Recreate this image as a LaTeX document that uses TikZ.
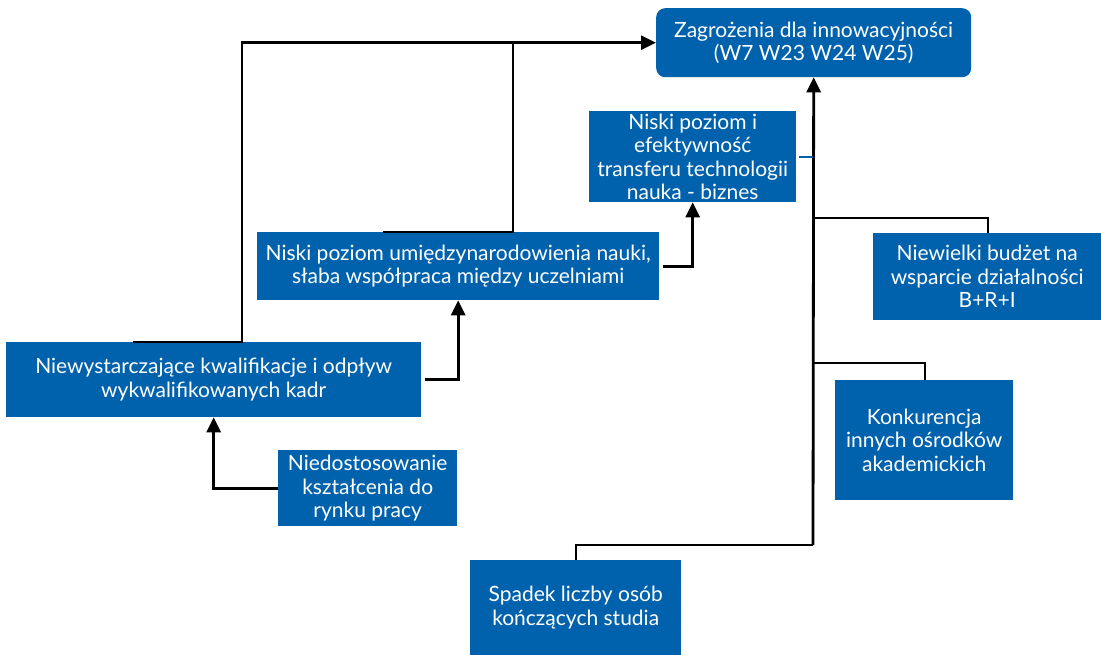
\documentclass[tikz,border=0pt]{standalone}
\usepackage{fontspec}
\setmainfont{Lato}
\usetikzlibrary{arrows.meta}
\definecolor{boxblue}{RGB}{0,98,173}
\begin{document}
\begin{tikzpicture}[x=1pt,y=-1pt,
    box/.style={fill=boxblue,text=white,align=center,inner sep=0pt,anchor=north west,
      font=\fontsize{21}{23.5}\selectfont},
    link/.style={line width=2.8pt,draw=black},
    arr/.style={link,-{Triangle[length=15pt,width=14pt]}}]

    \useasboundingbox (0,0) rectangle (1101,655);

    % Riquadri
    \node[box,rounded corners=9pt,minimum width=315,minimum height=69] (top) at (656,8)
      {Zagrożenia dla innowacyjności\\(W7 W23 W24 W25)};
    \node[box,minimum width=207,minimum height=91] (tech) at (589,111)
      {Niski poziom i\\efektywność\\transferu technologii\\nauka - biznes};
    \node[box,minimum width=402,minimum height=68] (intl) at (257,232)
      {Niski poziom umiędzynarodowienia nauki,\\słaba współpraca między uczelniami};
    \node[box,minimum width=415,minimum height=75] (kadr) at (6,342)
      {Niewystarczające kwalifikacje i odpływ\\wykwalifikowanych kadr};
    \node[box,minimum width=179,minimum height=76] (ksztal) at (278,450)
      {Niedostosowanie\\kształcenia do\\rynku pracy};
    \node[box,minimum width=228,minimum height=87] (budzet) at (873,233)
      {Niewielki budżet na\\wsparcie działalności\\B+R+I};
    \node[box,minimum width=178,minimum height=120] (konk) at (835,380)
      {Konkurencja\\innych ośrodków\\akademickich};
    \node[box,minimum width=211,minimum height=95] (spadek) at (470,560)
      {Spadek liczby osób\\kończących studia};

    % Punti di raccordo
    \coordinate (trunk) at (813,545);
    \coordinate (jb) at (813,218);
    \coordinate (jk) at (813,363);
    \coordinate (jt) at (813,157);

    % Frecce verso il riquadro superiore
    \draw[arr] ([xshift=127]kadr.north west) -| ([xshift=-414]top.west) -- (top.west);
    \draw[link] ([xshift=126]intl.north west) -| ([xshift=-143]top.west);
    \draw[arr] ([xshift=4]kadr.east) -| (intl.south);
    \draw[arr] ([xshift=4]intl.east) -| (tech.south);
    \draw[arr] (ksztal.west) -| (kadr.south);

    % Tronco verticale
    \draw[arr] (trunk) -- (top.south);
    \draw[link] ([xshift=106]spadek.north west) |- (trunk);
    \draw[link] (jb) -| ([xshift=115]budzet.north west);
    \draw[link] (jk) -| ([xshift=90]konk.north west);
    \draw[boxblue,line width=2pt] ([xshift=3]tech.east |- jt) -- (jt);

\end{tikzpicture}
\end{document}
